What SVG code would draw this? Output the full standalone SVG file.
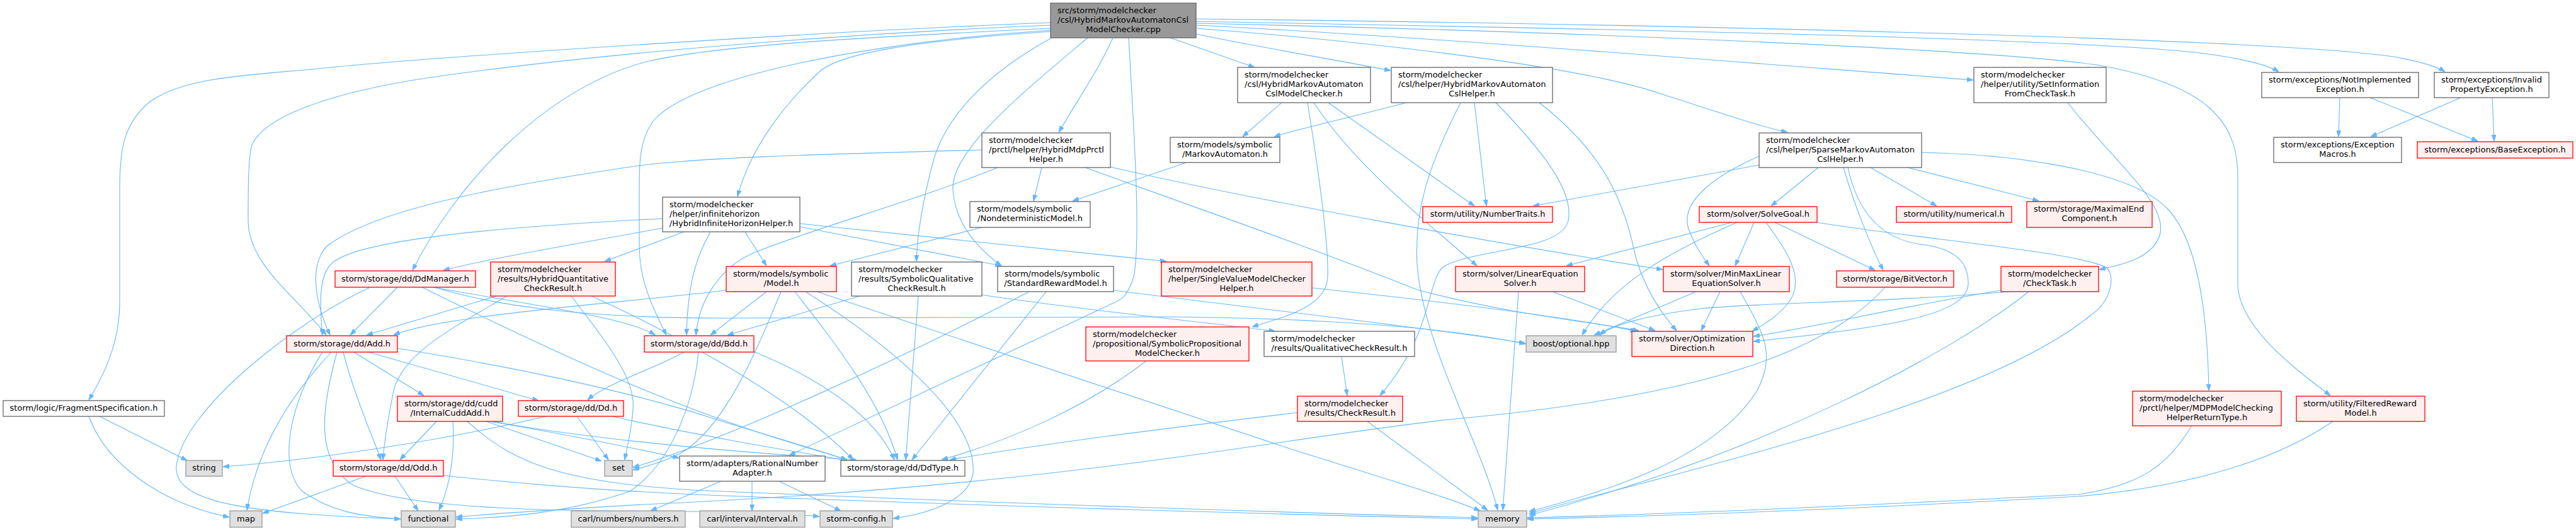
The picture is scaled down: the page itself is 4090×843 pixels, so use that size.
<svg xmlns="http://www.w3.org/2000/svg" width="4090" height="843" viewBox="0 0 4090 843">
<style>
.node rect{stroke-width:1.3}
.w rect{fill:#ffffff;stroke:#666666}
.r rect{fill:#fff0f0;stroke:#ff0000}
.g rect{fill:#e0e0e0;stroke:#999999}
.m rect{fill:#999999;stroke:#666666}
.node text{font-family:"DejaVu Sans","Liberation Sans",sans-serif;font-size:13px;fill:#000000}
.c{text-anchor:middle}
#edges path{fill:none;stroke:#63b8ff;stroke-width:1.1;marker-end:url(#ah)}
</style>
<defs>
<marker id="ah" viewBox="0 0 10 7" refX="10" refY="3.5" markerWidth="10" markerHeight="7" markerUnits="userSpaceOnUse" orient="auto">
<path d="M0,0L10,3.5L0,7z" fill="#63b8ff" stroke="#63b8ff" stroke-width="1"/>
</marker>
</defs>
<rect width="4090" height="843" fill="#ffffff"/>
<g id="edges">
<path d="M1668,36 C1300,50 700,90 525,107 C400,120 300,120 240,160 C195,195 190,240 190,300 L190,480 C190,545 165,595 141,635"/>
<path d="M1668,40 C1300,55 900,90 657,127 C520,150 420,185 400,230 C394,250 394,300 394,350 C394,420 470,470 518,532"/>
<path d="M1668,45 C1400,58 1150,70 1030,97 C860,140 720,300 655,429"/>
<path d="M1668,48 C1400,65 1090,120 1035,195 C1015,225 1015,260 1015,300 L1015,390 C1015,450 1040,495 1058,532"/>
<path d="M1668,50 C1450,65 1330,85 1300,115 C1240,170 1190,240 1171,312"/>
<path d="M1670,60 C1560,120 1500,190 1482,255 C1462,330 1456,380 1455,415"/>
<path d="M1727,60 C1620,150 1510,240 1513,300 C1516,360 1560,400 1590,422"/>
<path d="M1767,60 C1745,110 1710,160 1681,210"/>
<path d="M1792,60 C1800,200 1812,380 1800,440 C1790,470 1780,476 1770,480 L1253,723"/>
<path d="M1858,60 L1992,107"/>
<path d="M1899,54 C2000,75 2120,95 2208,112"/>
<path d="M1899,45 C2100,60 2500,100 2640,150 C2720,175 2790,200 2838,210"/>
<path d="M1899,40 C2300,60 2900,110 3133,127"/>
<path d="M1899,34 C2500,45 3300,60 3500,85 C3560,93 3600,103 3618,114"/>
<path d="M1899,30 C2600,38 3600,60 3800,90 C3840,97 3868,105 3882,114"/>
<path d="M1899,37 C2500,50 3200,80 3340,105 C3500,135 3553,190 3553,280 L3553,450 C3553,520 3650,590 3700,628"/>
<path d="M2035,163 L1973,217"/>
<path d="M2076,163 C2090,250 2110,380 2108,440 C2106,490 2030,505 1988,519"/>
<path d="M2086,163 C2150,260 2250,340 2345,422"/>
<path d="M2109,163 L2341,327"/>
<path d="M2233,163 C2150,185 2060,205 2023,217"/>
<path d="M2319,163 C2270,260 2245,330 2250,420 C2260,550 2350,700 2378,810"/>
<path d="M2341,163 L2360,327"/>
<path d="M2375,163 C2440,230 2500,300 2490,350 C2480,400 2330,395 2290,425 C2265,450 2275,530 2191,628"/>
<path d="M2444,163 C2530,230 2575,300 2595,400 C2610,460 2640,500 2662,525"/>
<path d="M3283,163 C3350,250 3440,320 3430,370 C3420,410 3370,420 3333,428"/>
<path d="M3715,155 L3713,217"/>
<path d="M3763,155 L3934,224"/>
<path d="M3907,155 L3764,217"/>
<path d="M3957,155 L3960,224"/>
<path d="M1559,238 C1300,245 1100,250 1000,265 C800,295 600,330 520,390 C490,420 500,480 524,532"/>
<path d="M1584,266 C1450,320 1300,360 1200,400 C1150,420 1110,470 1105,532"/>
<path d="M1654,266 L1641,319"/>
<path d="M1763,265 C2000,320 2400,390 2640,428"/>
<path d="M1723,266 C1900,330 2100,400 2250,460 C2400,500 2520,510 2602,525"/>
<path d="M1884,258 L1703,319"/>
<path d="M2793,248 C2720,280 2670,320 2680,360 C2690,390 2705,410 2714,422"/>
<path d="M2793,262 L2434,327"/>
<path d="M2887,266 L2812,327"/>
<path d="M2927,266 C2945,330 2975,400 2990,429"/>
<path d="M2934,266 C2950,340 2990,380 3050,388 C3110,395 3125,420 3125,450 C3125,500 3000,520 2784,542"/>
<path d="M2970,266 L3075,327"/>
<path d="M3025,265 L3237,319"/>
<path d="M3051,242 C3200,245 3380,270 3440,330 C3490,380 3505,500 3507,620"/>
<path d="M1052,347 C800,360 560,380 525,420 C505,440 508,490 512,532"/>
<path d="M1052,362 C900,390 780,410 704,429"/>
<path d="M1086,368 L960,415"/>
<path d="M1183,368 L1217,422"/>
<path d="M1128,368 C1110,400 1092,440 1090,532"/>
<path d="M1270,360 L1590,422"/>
<path d="M1270,355 L1852,415"/>
<path d="M1559,361 L1318,422"/>
<path d="M2750,353 L2487,422"/>
<path d="M2758,353 C2650,400 2560,450 2512,532"/>
<path d="M2785,353 L2755,422"/>
<path d="M2804,353 C2830,390 2870,440 2840,480 C2820,505 2800,515 2782,526"/>
<path d="M2818,353 L2977,429"/>
<path d="M2884,353 C3050,380 3300,400 3345,425 C3360,440 3350,480 3320,500 C3150,640 2700,740 2428,815"/>
<path d="M588,456 C470,510 290,650 280,740 C275,800 400,815 636,824"/>
<path d="M631,456 L556,532"/>
<path d="M687,456 C850,485 1000,505 1040,532"/>
<path d="M690,456 C800,490 950,505 1150,505 L1850,503 C2100,505 2300,520 2422,546"/>
<path d="M670,456 C800,520 950,590 1050,630 C1200,690 1300,715 1345,730"/>
<path d="M788,470 L582,532"/>
<path d="M805,470 C720,520 640,560 625,620 C615,670 610,700 608,730"/>
<path d="M907,470 C960,540 1010,600 1005,650 C1002,690 995,710 992,730"/>
<path d="M939,470 C1050,520 1200,600 1300,680 C1330,705 1345,720 1355,730"/>
<path d="M1160,460 C1000,480 700,500 625,532"/>
<path d="M1217,463 L1128,532"/>
<path d="M1262,463 C1330,550 1400,640 1425,730"/>
<path d="M1279,463 C1400,540 1540,650 1545,740 C1550,790 1480,815 1418,823"/>
<path d="M1297,463 L2050,713 C2200,760 2300,790 2350,811"/>
<path d="M1240,463 C1200,560 1150,680 1080,720 C1050,735 1020,742 1005,746"/>
<path d="M1365,470 L1155,532"/>
<path d="M1458,470 L1438,730"/>
<path d="M1559,468 C1700,490 1900,510 2025,526"/>
<path d="M1634,463 C1450,560 1150,700 1005,742"/>
<path d="M1661,463 L1448,730"/>
<path d="M1768,461 C2000,490 2300,525 2422,545"/>
<path d="M2083,457 C2300,480 2500,505 2598,526"/>
<path d="M2465,463 L2628,525"/>
<path d="M2411,463 L2386,810"/>
<path d="M2693,463 L2531,532"/>
<path d="M2731,463 L2701,525"/>
<path d="M2763,463 C2800,530 2820,560 2790,620 C2720,730 2550,780 2428,812"/>
<path d="M2993,456 C2900,560 2700,630 2300,666 C2000,700 1700,770 1020,801 C900,808 780,815 724,821"/>
<path d="M3177,461 C3000,490 2880,520 2784,534"/>
<path d="M3188,463 C3000,480 2800,480 2700,490 C2620,500 2560,515 2540,532"/>
<path d="M3221,463 C3100,560 2800,720 2428,818"/>
<path d="M526,559 C470,620 410,700 392,810"/>
<path d="M512,559 C460,640 440,740 480,780 C530,815 580,820 636,824"/>
<path d="M545,559 C560,620 590,690 605,730"/>
<path d="M562,559 L673,628"/>
<path d="M585,559 L855,636"/>
<path d="M631,553 C800,580 1000,620 1150,670 C1250,700 1300,715 1345,730"/>
<path d="M535,559 C510,650 500,730 560,770 C650,810 900,812 1100,812 C1200,813 1260,816 1301,820"/>
<path d="M1196,558 C1300,600 1390,660 1420,730"/>
<path d="M1086,559 C1040,585 960,610 933,635"/>
<path d="M1109,559 C1100,650 1060,740 1000,780 C900,815 800,822 724,824"/>
<path d="M1820,573 C1720,650 1600,700 1495,730"/>
<path d="M2130,566 L2139,628"/>
<path d="M158,661 L297,731"/>
<path d="M141,661 C170,740 260,800 364,821"/>
<path d="M693,669 L635,730"/>
<path d="M719,669 C722,720 715,770 697,810"/>
<path d="M772,669 L955,732"/>
<path d="M778,669 C900,690 1000,710 1078,727"/>
<path d="M782,669 C950,700 1200,720 1360,730"/>
<path d="M742,669 C820,740 900,765 1100,778 C1600,800 2100,815 2346,822"/>
<path d="M916,661 L966,730"/>
<path d="M867,661 C700,700 500,730 354,741"/>
<path d="M972,661 C1100,690 1250,715 1345,731"/>
<path d="M2060,655 C1850,680 1650,705 1508,730"/>
<path d="M2171,669 L2362,810"/>
<path d="M3480,676 C3440,740 3400,770 3300,785 C3000,800 2700,815 2425,822"/>
<path d="M3704,669 C3600,740 3450,775 3300,788 C3000,805 2700,818 2425,824"/>
<path d="M581,756 L417,815"/>
<path d="M627,756 L664,811"/>
<path d="M704,755 C900,775 1000,780 1100,785 C1600,805 2100,818 2346,824"/>
<path d="M1145,764 L1033,811"/>
<path d="M1194,764 L1194,811"/>
<path d="M1237,764 L1335,811"/>
</g>
<g id="n0" class="node m"><rect x="1668" y="5" width="231" height="55"/><text x="1679" y="21">src/storm/modelchecker</text><text x="1679" y="36">/csl/HybridMarkovAutomatonCsl</text><text class="c" x="1783.5" y="51">ModelChecker.cpp</text></g>
<g id="n1" class="node w"><rect x="1965" y="107" width="211" height="56"/><text x="1976" y="123">storm/modelchecker</text><text x="1976" y="138">/csl/HybridMarkovAutomaton</text><text class="c" x="2070.5" y="153">CslModelChecker.h</text></g>
<g id="n2" class="node w"><rect x="2209" y="107" width="256" height="56"/><text x="2220" y="123">storm/modelchecker</text><text x="2220" y="138">/csl/helper/HybridMarkovAutomaton</text><text class="c" x="2337" y="153">CslHelper.h</text></g>
<g id="n3" class="node w"><rect x="3134" y="107" width="210" height="56"/><text x="3145" y="123">storm/modelchecker</text><text x="3145" y="138">/helper/utility/SetInformation</text><text class="c" x="3239" y="153">FromCheckTask.h</text></g>
<g id="n4" class="node w"><rect x="3591" y="115" width="249" height="40"/><text x="3602" y="131">storm/exceptions/NotImplemented</text><text class="c" x="3715.5" y="146">Exception.h</text></g>
<g id="n5" class="node w"><rect x="3865" y="115" width="182" height="40"/><text x="3876" y="131">storm/exceptions/Invalid</text><text class="c" x="3956" y="146">PropertyException.h</text></g>
<g id="n6" class="node w"><rect x="1559" y="211" width="204" height="55"/><text x="1570" y="227">storm/modelchecker</text><text x="1570" y="242">/prctl/helper/HybridMdpPrctl</text><text class="c" x="1661" y="257">Helper.h</text></g>
<g id="n7" class="node w"><rect x="1858" y="218" width="174" height="40"/><text x="1869" y="234">storm/models/symbolic</text><text class="c" x="1945" y="249">/MarkovAutomaton.h</text></g>
<g id="n8" class="node w"><rect x="2793" y="211" width="258" height="55"/><text x="2804" y="227">storm/modelchecker</text><text x="2804" y="242">/csl/helper/SparseMarkovAutomaton</text><text class="c" x="2922" y="257">CslHelper.h</text></g>
<g id="n9" class="node w"><rect x="3610" y="218" width="203" height="40"/><text x="3621" y="234">storm/exceptions/Exception</text><text class="c" x="3711.5" y="249">Macros.h</text></g>
<g id="n10" class="node r"><rect x="3838" y="225" width="247" height="26"/><text class="c" x="3961.5" y="242">storm/exceptions/BaseException.h</text></g>
<g id="n11" class="node w"><rect x="1052" y="313" width="218" height="55"/><text x="1063" y="329">storm/modelchecker</text><text x="1063" y="344">/helper/infinitehorizon</text><text class="c" x="1161" y="359">/HybridInfiniteHorizonHelper.h</text></g>
<g id="n12" class="node w"><rect x="1540" y="320" width="191" height="41"/><text x="1551" y="336">storm/models/symbolic</text><text class="c" x="1635.5" y="351">/NondeterministicModel.h</text></g>
<g id="n13" class="node r"><rect x="2259" y="328" width="206" height="25"/><text class="c" x="2362" y="344">storm/utility/NumberTraits.h</text></g>
<g id="n14" class="node r"><rect x="2698" y="328" width="187" height="25"/><text class="c" x="2791.5" y="344">storm/solver/SolveGoal.h</text></g>
<g id="n15" class="node r"><rect x="3011" y="328" width="183" height="25"/><text class="c" x="3102.5" y="344">storm/utility/numerical.h</text></g>
<g id="n16" class="node r"><rect x="3218" y="320" width="199" height="41"/><text x="3229" y="336">storm/storage/MaximalEnd</text><text class="c" x="3317.5" y="351">Component.h</text></g>
<g id="n17" class="node r"><rect x="532" y="430" width="223" height="26"/><text class="c" x="643.5" y="447">storm/storage/dd/DdManager.h</text></g>
<g id="n18" class="node r"><rect x="779" y="416" width="198" height="54"/><text x="790" y="432">storm/modelchecker</text><text x="790" y="447">/results/HybridQuantitative</text><text class="c" x="878" y="462">CheckResult.h</text></g>
<g id="n19" class="node r"><rect x="1153" y="423" width="175" height="40"/><text x="1164" y="439">storm/models/symbolic</text><text class="c" x="1240.5" y="454">/Model.h</text></g>
<g id="n20" class="node w"><rect x="1352" y="416" width="207" height="54"/><text x="1363" y="432">storm/modelchecker</text><text x="1363" y="447">/results/SymbolicQualitative</text><text class="c" x="1455.5" y="462">CheckResult.h</text></g>
<g id="n21" class="node w"><rect x="1584" y="423" width="184" height="40"/><text x="1595" y="439">storm/models/symbolic</text><text class="c" x="1676" y="454">/StandardRewardModel.h</text></g>
<g id="n22" class="node r"><rect x="1844" y="416" width="239" height="54"/><text x="1855" y="432">storm/modelchecker</text><text x="1855" y="447">/helper/SingleValueModelChecker</text><text class="c" x="1963.5" y="462">Helper.h</text></g>
<g id="n23" class="node r"><rect x="2311" y="423" width="205" height="40"/><text x="2322" y="439">storm/solver/LinearEquation</text><text class="c" x="2413.5" y="454">Solver.h</text></g>
<g id="n24" class="node r"><rect x="2641" y="423" width="200" height="40"/><text x="2652" y="439">storm/solver/MinMaxLinear</text><text class="c" x="2741" y="454">EquationSolver.h</text></g>
<g id="n25" class="node r"><rect x="2916" y="430" width="186" height="26"/><text class="c" x="3009" y="447">storm/storage/BitVector.h</text></g>
<g id="n26" class="node r"><rect x="3177" y="423" width="155" height="40"/><text x="3188" y="439">storm/modelchecker</text><text class="c" x="3254.5" y="454">/CheckTask.h</text></g>
<g id="n27" class="node r"><rect x="455" y="533" width="176" height="26"/><text class="c" x="543" y="550">storm/storage/dd/Add.h</text></g>
<g id="n28" class="node r"><rect x="1023" y="533" width="174" height="26"/><text class="c" x="1110" y="550">storm/storage/dd/Bdd.h</text></g>
<g id="n29" class="node r"><rect x="1724" y="519" width="259" height="54"/><text x="1735" y="535">storm/modelchecker</text><text x="1735" y="550">/propositional/SymbolicPropositional</text><text class="c" x="1853.5" y="565">ModelChecker.h</text></g>
<g id="n30" class="node w"><rect x="2007" y="526" width="239" height="40"/><text x="2018" y="542">storm/modelchecker</text><text class="c" x="2126.5" y="557">/results/QualitativeCheckResult.h</text></g>
<g id="n31" class="node g"><rect x="2423" y="533" width="143" height="26"/><text class="c" x="2494.5" y="550">boost/optional.hpp</text></g>
<g id="n32" class="node r"><rect x="2591" y="526" width="192" height="40"/><text x="2602" y="542">storm/solver/Optimization</text><text class="c" x="2687" y="557">Direction.h</text></g>
<g id="n33" class="node w"><rect x="5" y="636" width="256" height="25"/><text class="c" x="133" y="652">storm/logic/FragmentSpecification.h</text></g>
<g id="n34" class="node r"><rect x="631" y="629" width="167" height="40"/><text x="642" y="645">storm/storage/dd/cudd</text><text class="c" x="714.5" y="660">/InternalCuddAdd.h</text></g>
<g id="n35" class="node r"><rect x="823" y="636" width="167" height="25"/><text class="c" x="906.5" y="652">storm/storage/dd/Dd.h</text></g>
<g id="n36" class="node r"><rect x="2060" y="629" width="167" height="40"/><text x="2071" y="645">storm/modelchecker</text><text class="c" x="2143.5" y="660">/results/CheckResult.h</text></g>
<g id="n37" class="node r"><rect x="3386" y="621" width="236" height="55"/><text x="3397" y="637">storm/modelchecker</text><text x="3397" y="652">/prctl/helper/MDPModelChecking</text><text class="c" x="3504" y="667">HelperReturnType.h</text></g>
<g id="n38" class="node r"><rect x="3646" y="629" width="204" height="40"/><text x="3657" y="645">storm/utility/FilteredReward</text><text class="c" x="3748" y="660">Model.h</text></g>
<g id="n39" class="node g"><rect x="295" y="731" width="58" height="25"/><text class="c" x="324" y="747">string</text></g>
<g id="n40" class="node r"><rect x="529" y="731" width="175" height="25"/><text class="c" x="616.5" y="747">storm/storage/dd/Odd.h</text></g>
<g id="n41" class="node g"><rect x="960" y="731" width="44" height="25"/><text class="c" x="982" y="747">set</text></g>
<g id="n42" class="node w"><rect x="1079" y="724" width="231" height="40"/><text x="1090" y="740">storm/adapters/RationalNumber</text><text class="c" x="1194.5" y="755">Adapter.h</text></g>
<g id="n43" class="node w"><rect x="1335" y="731" width="197" height="25"/><text class="c" x="1433.5" y="747">storm/storage/dd/DdType.h</text></g>
<g id="n44" class="node g"><rect x="365" y="811" width="51" height="26"/><text class="c" x="390.5" y="828">map</text></g>
<g id="n45" class="node g"><rect x="637" y="811" width="86" height="26"/><text class="c" x="680" y="828">functional</text></g>
<g id="n46" class="node g"><rect x="907" y="811" width="181" height="26"/><text class="c" x="997.5" y="828">carl/numbers/numbers.h</text></g>
<g id="n47" class="node g"><rect x="1111" y="811" width="167" height="26"/><text class="c" x="1194.5" y="828">carl/interval/Interval.h</text></g>
<g id="n48" class="node g"><rect x="1302" y="811" width="115" height="26"/><text class="c" x="1359.5" y="828">storm-config.h</text></g>
<g id="n49" class="node g"><rect x="2347" y="811" width="77" height="26"/><text class="c" x="2385.5" y="828">memory</text></g>
</svg>
